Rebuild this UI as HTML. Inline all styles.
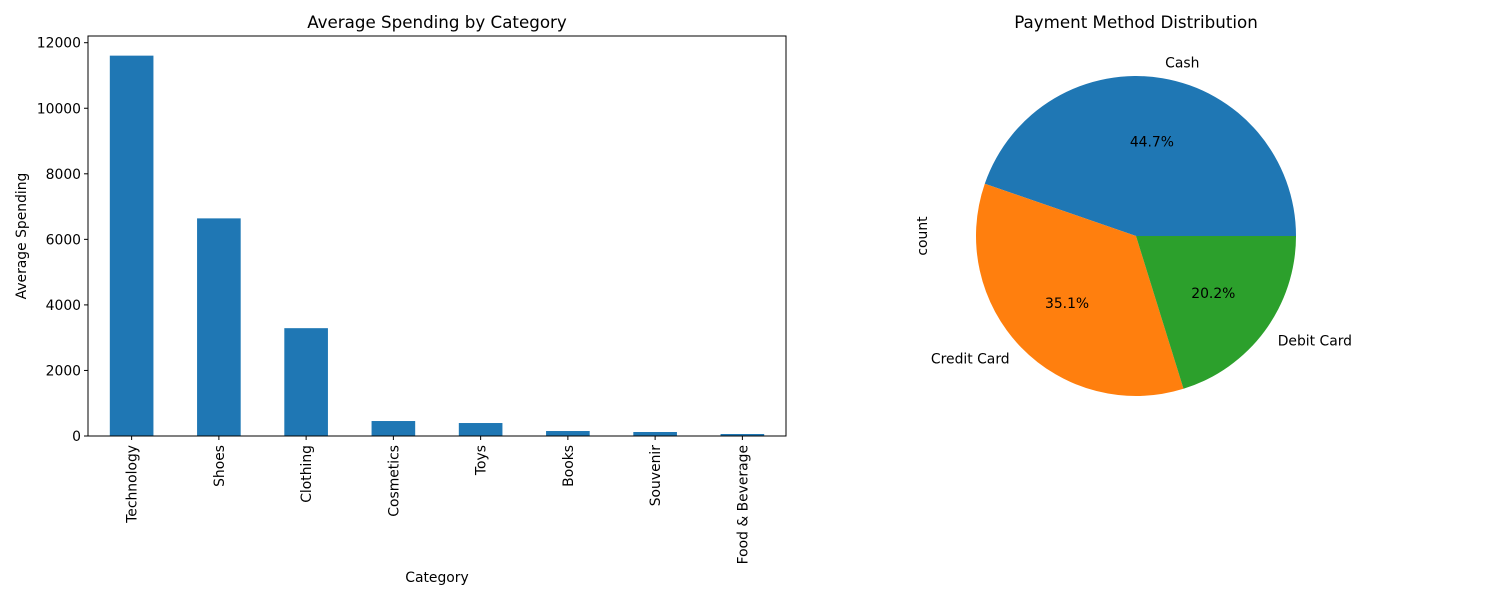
<!DOCTYPE html>
<html><head><meta charset="utf-8"><style>
body{margin:0;background:#fff;font-family:"Liberation Sans","DejaVu Sans",sans-serif;}
svg text{font-family:"DejaVu Sans","Liberation Sans",sans-serif;font-size:13.9px;fill:#000;}
svg text.title{font-size:16.7px;}
</style></head><body>
<svg id="chart" width="1500" height="600" xmlns="http://www.w3.org/2000/svg">
<g id="bar"></g>
<g id="pie"></g>
</svg>
<script>
const categories=["Technology","Shoes","Clothing","Cosmetics","Toys","Books","Souvenir","Food & Beverage"];
const spending=[11605,6640,3290,457,396,152,122,61];
const yTicks=[0,2000,4000,6000,8000,10000,12000];
const payLabels=["Cash","Credit Card","Debit Card"];
const payShares=[44.7,35.1,20.2];
const payColors=["#1f77b4","#ff7f0e","#2ca02c"];

const NS="http://www.w3.org/2000/svg";
function mk(tag,attrs,parent,txt){const e=document.createElementNS(NS,tag);for(const k in attrs)e.setAttribute(k,attrs[k]);if(txt!==undefined)e.textContent=txt;parent.appendChild(e);return e;}
const bar=document.getElementById('bar');
const L=88,R=786,T=36,B=436;
const yMax=12000*(B-T)/(B-42.7);
const y=v=>B-v/yMax*(B-T);
const slot=(R-L)/categories.length;
const xc=i=>L+slot*(i+0.5);
categories.forEach((c,i)=>{
  const r=mk('rect',{x:xc(i)-slot/4,y:y(spending[i]),width:slot/2,height:B-y(spending[i]),fill:'#1f77b4'},bar);
  
  
  mk('line',{x1:xc(i),x2:xc(i),y1:B,y2:B+4,stroke:'#000'},bar);
  const t=mk('text',{x:0,y:0,'text-anchor':'end',transform:`translate(${xc(i)+5},${B+9}) rotate(-90)`},bar,c);
  
  
});
yTicks.forEach(v=>{
  mk('line',{x1:L-4,x2:L,y1:y(v),y2:y(v),stroke:'#000'},bar);
  const t=mk('text',{x:L-7,y:y(v)+5,'text-anchor':'end'},bar,String(v));
  
  
});
mk('rect',{x:L,y:T,width:R-L,height:B-T,fill:'none',stroke:'#000','stroke-width':1},bar);
let t=mk('text',{x:(L+R)/2,y:28,'text-anchor':'middle','class':'title'},bar,'Average Spending by Category');

t=mk('text',{x:(L+R)/2,y:582,'text-anchor':'middle'},bar,'Category');

t=mk('text',{x:0,y:0,'text-anchor':'middle',transform:'translate(26,236) rotate(-90)'},bar,'Average Spending');


const pie=document.getElementById('pie');
const cx=1136,cy=236,rad=160;
const tot=payShares.reduce((a,b)=>a+b,0);
let a0=0;
payShares.forEach((s,i)=>{
  const a1=a0+s/tot*2*Math.PI;
  const p=(a)=>[cx+rad*Math.cos(a),cy-rad*Math.sin(a)];
  const [x0,y0]=p(a0),[x1,y1]=p(a1);
  const path=mk('path',{d:`M${cx},${cy} L${x0},${y0} A${rad},${rad} 0 ${a1-a0>Math.PI?1:0} 0 ${x1},${y1} Z`,fill:payColors[i]},pie);
  
  
  const m=(a0+a1)/2;
  const lx=cx+1.1*rad*Math.cos(m),ly=cy-1.1*rad*Math.sin(m);
  const lab=mk('text',{x:lx,y:ly+5,'text-anchor':Math.cos(m)>=0?'start':'end'},pie,payLabels[i]);
  
  const pct=mk('text',{x:cx+0.6*rad*Math.cos(m),y:cy-0.6*rad*Math.sin(m)+5,'text-anchor':'middle'},pie,s.toFixed(1)+'%');
  
  a0=a1;
});
t=mk('text',{x:cx,y:28,'text-anchor':'middle','class':'title'},pie,'Payment Method Distribution');

t=mk('text',{x:0,y:0,'text-anchor':'middle',transform:'translate(927,236) rotate(-90)'},pie,'count');

</script>
</body></html>
